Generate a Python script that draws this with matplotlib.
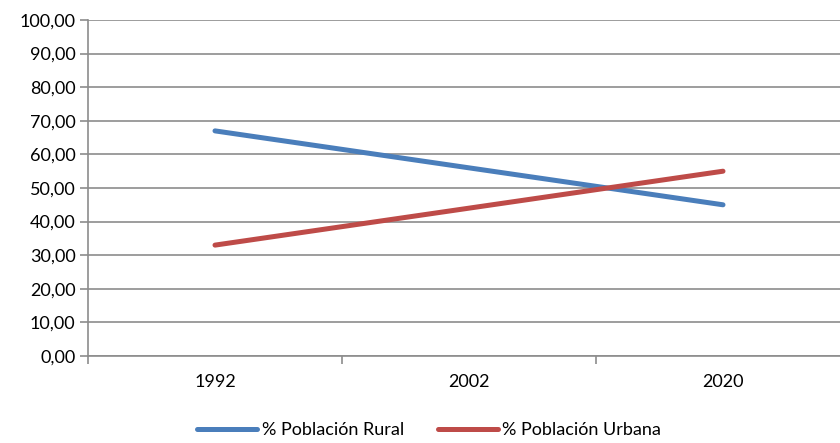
import numpy as np
import matplotlib.pyplot as plt
from matplotlib.ticker import FuncFormatter, FixedLocator

# data
years = ['1992', '2002', '2020']
rural = [67.0, 56.0, 45.0]
urbana = [33.0, 44.0, 55.0]

plt.rcParams['font.family'] = ['Lato', 'DejaVu Sans']

fig = plt.figure(figsize=(8.4, 4.43), dpi=100)
ax = fig.add_axes([88 / 840, 87 / 443, 762 / 840, 336 / 443])

x = np.arange(len(years))
ax.plot(x, rural, color='#4A7EBB', lw=3.6, solid_capstyle='round', label='% Población Rural')
ax.plot(x, urbana, color='#BE4B48', lw=3.6, solid_capstyle='round', label='% Población Urbana')

ax.set_xlim(-0.5, len(years) - 0.5)
ax.set_ylim(0, 100)
ax.set_yticks(np.arange(0, 101, 10))
ax.yaxis.set_major_formatter(FuncFormatter(lambda v, p: f'{v:.2f}'.replace('.', ',')))
ax.grid(axis='y', color='#8c8c8c', lw=1.2)
ax.set_axisbelow(True)

ax.set_xticks(x)
ax.set_xticklabels(years)
ax.xaxis.set_minor_locator(FixedLocator(np.arange(-0.5, len(years), 1.0)))
ax.tick_params(axis='x', which='major', length=0, pad=13, labelsize=13)
ax.tick_params(axis='x', which='minor', length=6, color='#8c8c8c', width=1.2)
ax.tick_params(axis='y', length=6, color='#8c8c8c', width=1.2, labelsize=13, pad=3)

for s in ['top', 'right']:
    ax.spines[s].set_visible(False)
for s in ['left', 'bottom']:
    ax.spines[s].set_color('#8c8c8c')
    ax.spines[s].set_linewidth(1.2)

fig.legend(loc='lower center', bbox_to_anchor=(0.511, -0.025), ncol=2, frameon=False,
           fontsize=13, handlelength=3.3, columnspacing=1.9, handletextpad=0.25)

fig.savefig('out.png', dpi=100)
